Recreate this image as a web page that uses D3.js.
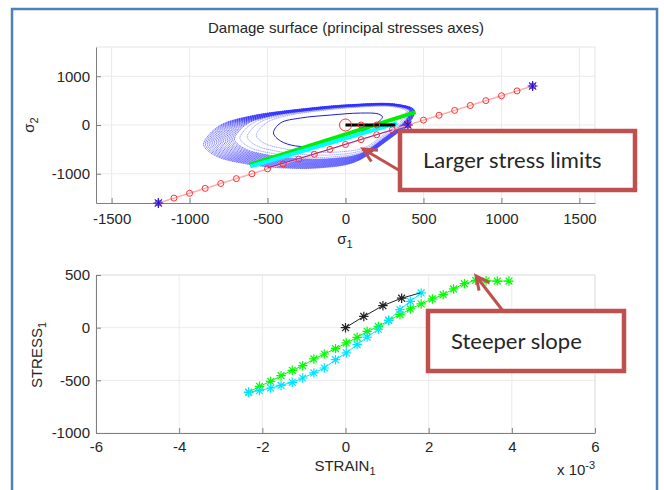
<!DOCTYPE html>
<html>
<head>
<meta charset="utf-8">
<script src="https://cdn.jsdelivr.net/npm/d3@7"></script>
<style>
body{margin:0;background:#fff}
text{font-family:"Liberation Sans",Arial,sans-serif;fill:#262626}
</style>
</head>
<body>
<div id="chart"></div>
<script>
// ---- top plot data (sigma1, sigma2) ----
const loadS1 = [-1200,-1100,-1000,-900,-800,-700,-600,-500,-400,-300,-200,-100,0,100,200,300,400,500,600,700,800,900,1000,1100,1200]
const loadS2 = [-1600,-1500,-1400,-1300,-1200,-1100,-1000,-900,-800,-700,-600,-500,-400,-300,-200,-100,0,100,200,300,400,500,600,700,800]
const starPts = [[-1200,-1600],[400,0],[1200,800]]
const blackS1 = [0,100,200,320]
const blackS2 = [0,0,0,0]
const pathS1 = [-500,-300,-100,100,300]
const pathS2 = [-880,-690,-495,-295,-100]
const greenLine = [[-615,-816],[449,265]]
const cyanLine = [[-610,-850],[330,40]]

// outer damage contour
const outerRing = [[-910,-408],[-865,-163],[-788,20],[-609,184],[-288,327],[32,418],[321,429],[442,306],
                   [417,82],[256,-347],[64,-755],[-160,-878],[-417,-878],[-641,-796],[-833,-633]]
const ringAnchor = [256,245]
const ringScales = [1,0.99,0.98,0.97,0.96,0.95,0.94,0.93,0.92,0.91,0.9,0.89,0.88,0.87,0.86,0.85,0.84,0.83,0.8,0.76,0.71]
const innerRing = [[-462,-163],[-417,41],[-288,143],[-96,204],[96,245],[212,224],[237,163],[192,20],
                   [32,-245],[-160,-429],[-321,-429],[-417,-327]]

// ---- bottom plot data (strain x 1e-3, stress) ----
const greenStrain = [-2.33,-2.07,-1.80,-1.55,-1.28,-1.03,-0.76,-0.51,-0.24,0.02,0.28,0.52,0.79,1.04,1.31,1.56,1.82,2.09,2.35,2.60,2.86,3.13,3.38,3.65,3.93]
const greenStress = [-614,-557,-510,-456,-405,-361,-297,-250,-199,-145,-92,-35,12,69,123,178,225,273,313,368,418,449,445,442,442]
const cyanStrain = [-2.33,-2.07,-1.80,-1.55,-1.28,-1.03,-0.76,-0.51,-0.24,0.02,0.28,0.52,0.79,1.04,1.31,1.56,1.82]
const cyanStress = [-614,-598,-573,-548,-519,-478,-430,-383,-304,-240,-161,-89,-15,69,171,250,330]
const blackStrain = [0,0.44,0.90,1.35,1.80]
const blackStress = [0,107,209,280,330]

// ticks
const topTicksX = [-1500,-1000,-500,0,500,1000,1500]
const topTicksY = [-1000,0,1000]
const botTicksX = [-6,-4,-2,0,2,4,6]
const botTicksY = [-1000,-500,0,500]

const W = 664, H = 490
const svg = d3.select("#chart").append("svg")
    .attr("width",W).attr("height",H)

// blue frame
svg.append("rect")
    .attr("x",12).attr("y",9).attr("width",645).attr("height",500)
    .attr("fill","none").attr("stroke","#4f81bd").attr("stroke-width",2.5)

svg.append("text")
    .attr("x",346).attr("y",33).attr("text-anchor","middle")
    .style("font-size","15px")
    .text("Damage surface (principal stresses axes)")

// asterisk marker like matlab '*'
const asterisk = {
    draw(ctx,size){
        const r = Math.sqrt(size)/2, q = r*0.72
        ctx.moveTo(-r,0); ctx.lineTo(r,0)
        ctx.moveTo(0,-r); ctx.lineTo(0,r)
        ctx.moveTo(-q,-q); ctx.lineTo(q,q)
        ctx.moveTo(-q,q); ctx.lineTo(q,-q)
    }
}

function drawFrame(x,y,xt,yt,pad){
    const g = svg.append("g")
    const [x0,x1] = x.range(), [y0,y1] = y.range()
    // grid
    g.selectAll(".gx").data(xt).join("line")
        .attr("x1",d=>x(d)).attr("x2",d=>x(d)).attr("y1",y0).attr("y2",y1)
        .attr("stroke","#ebebeb")
    g.selectAll(".gy").data(yt).join("line")
        .attr("x1",x0).attr("x2",x1).attr("y1",d=>y(d)).attr("y2",d=>y(d))
        .attr("stroke","#ebebeb")
    g.append("line").attr("x1",x0).attr("x2",x1).attr("y1",y1).attr("y2",y1).attr("stroke","#e3e3e3")
    g.append("line").attr("x1",x1).attr("x2",x1).attr("y1",y0).attr("y2",y1).attr("stroke","#e3e3e3")
    const ax = g.append("g").attr("transform",`translate(0,${y0})`)
        .call(d3.axisBottom(x).tickValues(xt).tickSizeInner(-5).tickSizeOuter(0).tickPadding(pad).tickFormat(d=>String(d)))
    const ay = g.append("g").attr("transform",`translate(${x0},0)`)
        .call(d3.axisLeft(y).tickValues(yt).tickSizeInner(-5).tickSizeOuter(0).tickPadding(6).tickFormat(d=>String(d)))
    for (const a of [ax,ay]){
        a.select(".domain").attr("stroke","#7f7f7f")
        a.selectAll(".tick line").attr("stroke","#7f7f7f")
        a.selectAll(".tick text").style("font-size","15px").attr("fill","#262626")
            .style("font-family","'Liberation Sans',Arial,sans-serif")
    }
    return g
}

// ================= top plot =================
const x1 = d3.scaleLinear().domain([-1600,1600]).range([96,595])
const y1 = d3.scaleLinear().domain([-1600,1600]).range([203,47])
drawFrame(x1,y1,topTicksX,topTicksY,10)

svg.append("clipPath").attr("id","clipTop").append("rect")
    .attr("x",96).attr("y",47).attr("width",499).attr("height",156)
const topG = svg.append("g").attr("clip-path","url(#clipTop)")

const ringLine = d3.line().x(d=>x1(d[0])).y(d=>y1(d[1])).curve(d3.curveCatmullRomClosed.alpha(0.5))

topG.selectAll(".ring").data(ringScales).join("path")
    .attr("d", s => ringLine(outerRing.map(p=>[ringAnchor[0]+s*(p[0]-ringAnchor[0]), ringAnchor[1]+s*(p[1]-ringAnchor[1])])))
    .attr("fill","none").attr("stroke","#2e2eff").attr("stroke-opacity",(s)=>s>0.82?0.7:0.45)
    .attr("stroke-width",0.9).attr("stroke-dasharray","1.4,0.5")

topG.append("path").attr("d",ringLine(innerRing))
    .attr("fill","none").attr("stroke","#1c1cd0").attr("stroke-width",1)

const lineTop = d3.line().x(d=>x1(d[0])).y(d=>y1(d[1]))
const loadPts = loadS1.map((v,i)=>[v,loadS2[i]])

topG.append("path").attr("d",lineTop(loadPts))
    .attr("fill","none").attr("stroke","#ffaaaa").attr("stroke-width",1.5)

topG.append("path").attr("d",lineTop(pathS1.map((v,i)=>[v,pathS2[i]])))
    .attr("fill","none").attr("stroke","#8a2b8f").attr("stroke-width",1)

topG.selectAll(".lc").data(loadPts.filter(p=>p[0]!==-1200 && p[0]!==1200 && p[0]!==400)).join("circle")
    .attr("cx",d=>x1(d[0])).attr("cy",d=>y1(d[1])).attr("r",3)
    .attr("fill","none").attr("stroke","#ff3030").attr("stroke-width",1)

topG.append("path").attr("d",lineTop(greenLine))
    .attr("stroke","#00ee00").attr("stroke-width",4)
topG.append("path").attr("d",lineTop(cyanLine))
    .attr("stroke","#00ffff").attr("stroke-width",4)

const blackPts = blackS1.map((v,i)=>[v,blackS2[i]])
topG.append("path").attr("d",lineTop(blackPts))
    .attr("stroke","#000").attr("stroke-width",3)
topG.selectAll(".bc").data(blackPts.slice(0,3)).join("circle")
    .attr("cx",d=>x1(d[0])).attr("cy",d=>y1(d[1])).attr("r",(d,i)=>i===0?6:3)
    .attr("fill","none").attr("stroke","#ff3030").attr("stroke-width",1)

svg.selectAll(".st").data(starPts).join("g")
    .attr("transform",d=>`translate(${x1(d[0])},${y1(d[1])})`)
    .call(g=>{
        g.append("circle").attr("r",3).attr("fill","none").attr("stroke","#ff3030")
        g.append("path").attr("d",d3.symbol().type(asterisk).size(100)()).attr("stroke","#2a1ad8").attr("stroke-width",1.2)
    })

svg.append("text").attr("x",345).attr("y",244).attr("text-anchor","middle").style("font-size","15px")
    .text("σ").append("tspan").attr("dy",4).style("font-size","11px").text("1")
svg.append("text").attr("transform","translate(34,125) rotate(-90)").attr("text-anchor","middle").style("font-size","15px")
    .text("σ").append("tspan").attr("dy",4).style("font-size","11px").text("2")

// ================= bottom plot =================
const x2 = d3.scaleLinear().domain([-6,6]).range([96,595])
const y2 = d3.scaleLinear().domain([-1000,500]).range([433,275])
drawFrame(x2,y2,botTicksX,botTicksY,8)

const botG = svg.append("g")
const lineBot = d3.line().x(d=>x2(d[0])).y(d=>y2(d[1]))
const series = [
    {strain:greenStrain, stress:greenStress, color:"#00ff00"},
    {strain:cyanStrain, stress:cyanStress, color:"#00e5ff"},
    {strain:blackStrain, stress:blackStress, color:"#222"}
]
series.forEach(s=>{
    const pts = s.strain.map((v,i)=>[v,s.stress[i]])
    botG.append("path").attr("d",lineBot(pts)).attr("fill","none").attr("stroke",s.color).attr("stroke-width",1)
    botG.selectAll(null).data(s.color==="#222"?pts.slice(0,4):pts).join("path")
        .attr("transform",d=>`translate(${x2(d[0])},${y2(d[1])})`)
        .attr("d",d3.symbol().type(asterisk).size(90)())
        .attr("stroke",s.color).attr("stroke-width",1.2)
})

svg.append("text").attr("x",345).attr("y",471).attr("text-anchor","middle").style("font-size","15px")
    .text("STRAIN").append("tspan").attr("dy",4).style("font-size","11px").text("1")
svg.append("text").attr("transform","translate(42,355) rotate(-90)").attr("text-anchor","middle").style("font-size","15px")
    .text("STRESS").append("tspan").attr("dy",4).style("font-size","11px").text("1")
svg.append("text").attr("x",557).attr("y",475).style("font-size","15px")
    .text("x 10").append("tspan").attr("dy",-6).style("font-size","11px").text("-3")

// ================= annotations =================
const red = "#c0504d"
function callout(bx,by,bw,bh,label,tx,ty,from,tip){
    svg.append("line").attr("x1",from[0]).attr("y1",from[1]).attr("x2",tip[0]).attr("y2",tip[1])
        .attr("stroke",red).attr("stroke-width",3)
    const ang = Math.atan2(from[1]-tip[1],from[0]-tip[0]), L = 15, a = 0.45
    svg.append("path")
        .attr("d",`M${tip[0]+L*Math.cos(ang+a)},${tip[1]+L*Math.sin(ang+a)}L${tip[0]},${tip[1]}L${tip[0]+L*Math.cos(ang-a)},${tip[1]+L*Math.sin(ang-a)}`)
        .attr("fill","none").attr("stroke",red).attr("stroke-width",3)
    svg.append("rect").attr("x",bx).attr("y",by).attr("width",bw).attr("height",bh)
        .attr("fill","#fff").attr("stroke",red).attr("stroke-width",4.5)
    svg.append("text").attr("x",tx).attr("y",ty).style("font-family","Lato,'Open Sans',sans-serif")
        .style("font-size","22px").attr("fill","#000").text(label)
}
callout(400,131,235,59,"Larger stress limits",423,168,[402,172],[363,149])
callout(428,311,196,60,"Steeper slope",451,349,[503,311],[476,276])
</script>
</body>
</html>
